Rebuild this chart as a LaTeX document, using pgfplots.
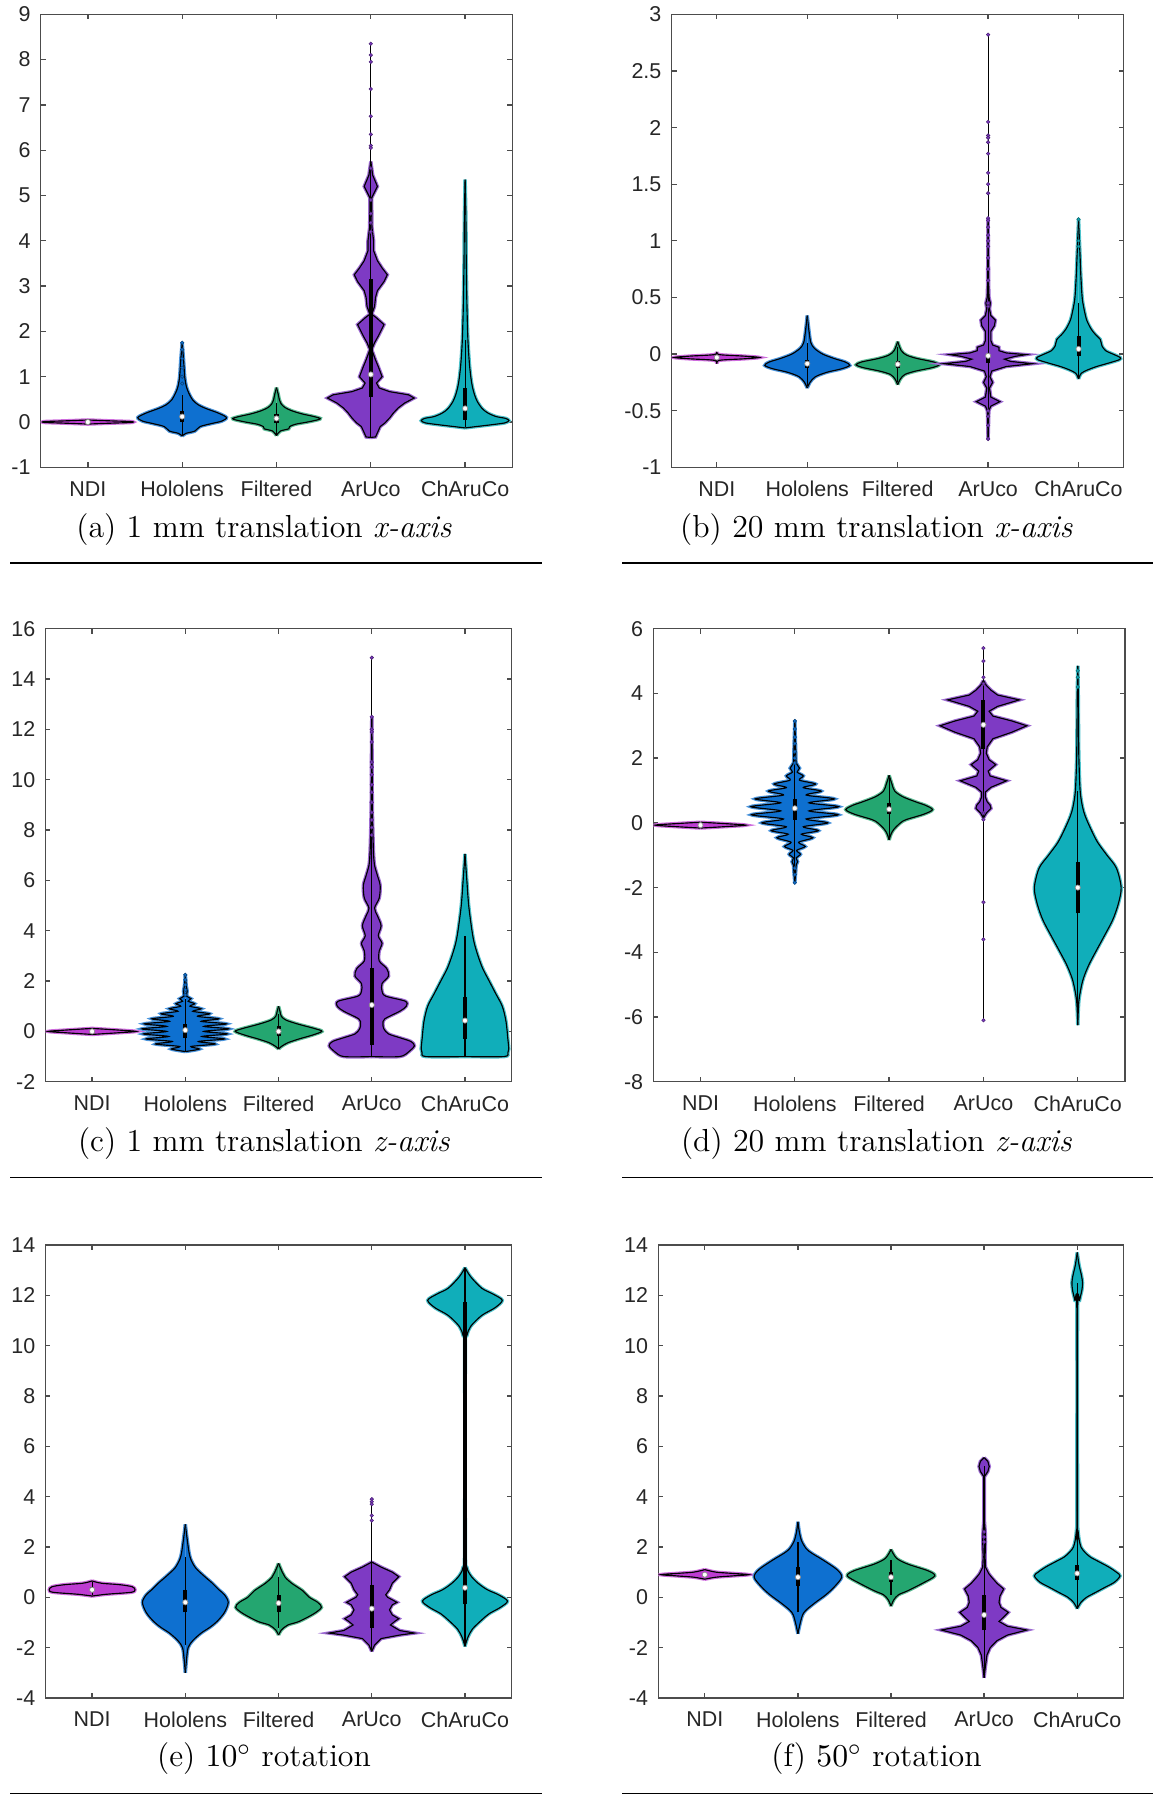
\documentclass[border=0pt]{standalone}
\usepackage{fontspec}
\newfontfamily\tickfont{Liberation Sans}
\usepackage{pgfplots}
\usepackage{pgfplotstable}
\pgfplotsset{compat=1.18}

\definecolor{cNDI}{RGB}{190,60,210}
\definecolor{cHol}{RGB}{14,112,208}
\definecolor{cFil}{RGB}{36,166,112}
\definecolor{cAru}{RGB}{126,58,196}
\definecolor{cCha}{RGB}{16,174,186}

\newcommand\capfont{\fontsize{11}{13}\selectfont}

% half-width profiles (y, w) of each violin
% (a) 1 mm translation x
\pgfplotstableread[row sep=\\]{y w\\ -0.045 0\\ -0.025 0.25\\ -0.01 0.46\\ 0.01 0.46\\ 0.025 0.25\\ 0.045 0\\}\aNDI
\pgfplotstableread[row sep=\\]{y w\\ -0.31 0\\ -0.25 0.04\\ -0.2 0.135\\ -0.1 0.19\\ -0.03 0.32\\ 0.02 0.42\\ 0.1 0.47\\ 0.2 0.38\\ 0.3 0.25\\ 0.38 0.17\\ 0.49 0.11\\ 0.64 0.07\\ 0.78 0.045\\ 1.0 0.027\\ 1.37 0.015\\ 1.75 0\\}\aHol
\pgfplotstableread[row sep=\\]{y w\\ -0.3 0\\ -0.2 0.04\\ -0.15 0.13\\ -0.1 0.14\\ -0.05 0.2\\ 0.0 0.33\\ 0.05 0.44\\ 0.08 0.464\\ 0.12 0.40\\ 0.18 0.27\\ 0.25 0.16\\ 0.32 0.09\\ 0.4 0.05\\ 0.5 0.03\\ 0.6 0.02\\ 0.76 0\\}\aFil
\pgfplotstableread[row sep=\\]{y w\\ -0.34 0\\ -0.33 0.05\\ -0.1 0.1\\ -0.02 0.15\\ 0.09 0.2\\ 0.2 0.24\\ 0.31 0.29\\ 0.42 0.36\\ 0.53 0.46\\ 0.6 0.4\\ 0.67 0.2\\ 0.75 0.09\\ 0.86 0.06\\ 1.0 0.12\\ 1.22 0.08\\ 1.37 0.05\\ 1.6 0.01\\ 1.75 0.04\\ 1.9 0.08\\ 2.15 0.14\\ 2.3 0.06\\ 2.38 0.01\\ 2.55 0.04\\ 2.75 0.05\\ 2.9 0.07\\ 3.1 0.14\\ 3.25 0.175\\ 3.4 0.12\\ 3.56 0.07\\ 3.78 0.03\\ 4.0 0.03\\ 4.3 0.012\\ 4.7 0.01\\ 4.95 0.01\\ 5.2 0.07\\ 5.45 0.02\\ 5.75 0\\}\aAru
\pgfplotstableread[row sep=\\]{y w\\ -0.13 0\\ -0.1 0.12\\ -0.06 0.28\\ -0.02 0.42\\ 0.03 0.465\\ 0.08 0.43\\ 0.12 0.33\\ 0.2 0.24\\ 0.3 0.18\\ 0.45 0.13\\ 0.6 0.1\\ 0.8 0.075\\ 1.0 0.06\\ 1.3 0.045\\ 1.8 0.03\\ 2.5 0.02\\ 3.5 0.012\\ 4.5 0.008\\ 5.35 0\\}\aCha
% (b) 20 mm translation x
\pgfplotstableread[row sep=\\]{y w\\ -0.085 0\\ -0.055 0.03\\ -0.042 0.3\\ -0.03 0.47\\ -0.018 0.3\\ -0.005 0.03\\ 0.02 0\\}\bNDI
\pgfplotstableread[row sep=\\]{y w\\ -0.3 0\\ -0.25 0.03\\ -0.2 0.09\\ -0.16 0.22\\ -0.13 0.38\\ -0.1 0.47\\ -0.07 0.42\\ -0.04 0.3\\ 0.0 0.17\\ 0.05 0.08\\ 0.1 0.04\\ 0.2 0.02\\ 0.34 0\\}\bHol
\pgfplotstableread[row sep=\\]{y w\\ -0.27 0\\ -0.22 0.03\\ -0.18 0.08\\ -0.15 0.2\\ -0.12 0.38\\ -0.095 0.46\\ -0.07 0.4\\ -0.04 0.22\\ -0.01 0.1\\ 0.03 0.04\\ 0.11 0\\}\bFil
\pgfplotstableread[row sep=\\]{y w\\ -0.75 0\\ -0.5 0.008\\ -0.46 0.03\\ -0.42 0.13\\ -0.38 0.03\\ -0.3 0.015\\ -0.25 0.05\\ -0.2 0.02\\ -0.15 0.04\\ -0.11 0.2\\ -0.085 0.49\\ -0.065 0.25\\ -0.045 0.18\\ -0.02 0.3\\ -0.005 0.42\\ 0.01 0.2\\ 0.03 0.12\\ 0.06 0.12\\ 0.08 0.05\\ 0.12 0.03\\ 0.2 0.03\\ 0.25 0.07\\ 0.3 0.08\\ 0.34 0.03\\ 0.4 0.015\\ 0.45 0.025\\ 0.5 0.01\\ 0.6 0.006\\ 1.2 0\\}\bAru
\pgfplotstableread[row sep=\\]{y w\\ -0.22 0\\ -0.17 0.03\\ -0.14 0.1\\ -0.11 0.2\\ -0.08 0.33\\ -0.05 0.45\\ -0.03 0.46\\ 0.0 0.38\\ 0.03 0.3\\ 0.07 0.26\\ 0.1 0.25\\ 0.13 0.24\\ 0.17 0.19\\ 0.22 0.14\\ 0.3 0.09\\ 0.4 0.06\\ 0.5 0.04\\ 0.7 0.025\\ 0.9 0.015\\ 1.19 0\\}\bCha
% (c) 1 mm translation z
\pgfplotstableread[row sep=\\]{y w\\ -0.12 0\\ -0.05 0.3\\ 0 0.47\\ 0.05 0.3\\ 0.12 0\\}\cNDI
\pgfplotstableread[row sep=\\]{y w\\ -0.8 0\\ -0.7 0.15\\ -0.6 0.06\\ -0.5 0.32\\ -0.4 0.14\\ -0.3 0.42\\ -0.2 0.18\\ -0.1 0.45\\ 0 0.2\\ 0.1 0.465\\ 0.2 0.2\\ 0.3 0.44\\ 0.4 0.17\\ 0.5 0.36\\ 0.6 0.13\\ 0.7 0.26\\ 0.8 0.08\\ 0.9 0.17\\ 1.0 0.05\\ 1.1 0.1\\ 1.2 0.03\\ 1.3 0.06\\ 1.4 0.015\\ 1.6 0.02\\ 1.8 0.01\\ 2.25 0\\}\cHol
\pgfplotstableread[row sep=\\]{y w\\ -0.7 0\\ -0.6 0.03\\ -0.45 0.1\\ -0.3 0.22\\ -0.15 0.36\\ 0 0.465\\ 0.1 0.4\\ 0.2 0.3\\ 0.3 0.2\\ 0.45 0.08\\ 0.6 0.03\\ 0.8 0.015\\ 1.0 0\\}\cFil
\pgfplotstableread[row sep=\\]{y w\\ -1.0 0\\ -1.0 0.3\\ -0.8 0.4\\ -0.57 0.457\\ -0.4 0.42\\ -0.25 0.3\\ -0.1 0.18\\ 0.1 0.13\\ 0.3 0.12\\ 0.5 0.14\\ 0.8 0.3\\ 1.0 0.37\\ 1.2 0.36\\ 1.4 0.15\\ 1.6 0.11\\ 1.9 0.11\\ 2.2 0.18\\ 2.5 0.16\\ 2.8 0.08\\ 3.2 0.08\\ 3.5 0.11\\ 3.8 0.07\\ 4.2 0.1\\ 4.6 0.06\\ 4.9 0.03\\ 5.3 0.08\\ 5.8 0.09\\ 6.2 0.06\\ 6.6 0.03\\ 7.0 0.02\\ 7.5 0.015\\ 8.2 0.01\\ 9 0.006\\ 10.5 0.004\\ 12.5 0\\}\cAru
\pgfplotstableread[row sep=\\]{y w\\ -1.0 0\\ -1.0 0.42\\ -0.85 0.46\\ -0.7 0.47\\ -0.3 0.46\\ 0.4 0.44\\ 1.0 0.4\\ 1.5 0.33\\ 2.0 0.26\\ 2.5 0.19\\ 3.0 0.14\\ 3.5 0.1\\ 4.0 0.075\\ 5.0 0.04\\ 6.0 0.02\\ 7.05 0\\}\cCha
% (d) 20 mm translation z
\pgfplotstableread[row sep=\\]{y w\\ -0.16 0\\ -0.11 0.3\\ -0.07 0.48\\ -0.03 0.3\\ 0.02 0\\}\dNDI
\pgfplotstableread[row sep=\\]{y w\\ -1.85 0\\ -1.5 0.01\\ -1.3 0.015\\ -1.2 0.03\\ -1.08 0.015\\ -0.97 0.06\\ -0.85 0.02\\ -0.73 0.11\\ -0.6 0.04\\ -0.46 0.19\\ -0.35 0.07\\ -0.24 0.25\\ -0.12 0.09\\ 0.0 0.35\\ 0.12 0.12\\ 0.25 0.46\\ 0.37 0.15\\ 0.5 0.465\\ 0.62 0.15\\ 0.74 0.42\\ 0.86 0.12\\ 0.98 0.28\\ 1.09 0.09\\ 1.2 0.22\\ 1.32 0.05\\ 1.45 0.09\\ 1.57 0.025\\ 1.69 0.05\\ 1.85 0.015\\ 2.2 0.01\\ 3.15 0\\}\dHol
\pgfplotstableread[row sep=\\]{y w\\ -0.53 0\\ -0.35 0.02\\ -0.2 0.05\\ 0.0 0.12\\ 0.1 0.18\\ 0.27 0.37\\ 0.41 0.46\\ 0.55 0.38\\ 0.62 0.31\\ 0.8 0.15\\ 0.98 0.06\\ 1.2 0.03\\ 1.47 0\\}\dFil
\pgfplotstableread[row sep=\\]{y w\\ 0.15 0\\ 0.3 0.03\\ 0.45 0.08\\ 0.55 0.07\\ 0.65 0.04\\ 0.8 0.02\\ 0.95 0.02\\ 1.1 0.08\\ 1.3 0.245\\ 1.45 0.07\\ 1.6 0.05\\ 1.8 0.13\\ 1.95 0.06\\ 2.15 0.03\\ 2.35 0.04\\ 2.6 0.1\\ 2.8 0.3\\ 3.0 0.46\\ 3.15 0.3\\ 3.3 0.1\\ 3.45 0.06\\ 3.6 0.15\\ 3.8 0.38\\ 3.95 0.15\\ 4.1 0.08\\ 4.25 0.03\\ 4.4 0\\}\dAru
\pgfplotstableread[row sep=\\]{y w\\ -6.25 0\\ -5.5 0.012\\ -4.9 0.05\\ -4.5 0.1\\ -4.2 0.15\\ -3.5 0.28\\ -3.0 0.37\\ -2.5 0.43\\ -2.0 0.46\\ -1.4 0.41\\ -1.0 0.31\\ -0.6 0.21\\ -0.2 0.14\\ 0.2 0.08\\ 0.5 0.05\\ 1.0 0.025\\ 2.0 0.012\\ 3.0 0.008\\ 4.0 0.005\\ 4.85 0\\}\dCha
% (e) 10 deg rotation
\pgfplotstableread[row sep=\\]{y w\\ 0.05 0\\ 0.12 0.15\\ 0.2 0.42\\ 0.3 0.46\\ 0.42 0.43\\ 0.5 0.3\\ 0.56 0.1\\ 0.65 0\\}\eNDI
\pgfplotstableread[row sep=\\]{y w\\ -3.0 0\\ -2.5 0.012\\ -2.0 0.03\\ -1.72 0.08\\ -1.42 0.17\\ -1.2 0.26\\ -0.96 0.34\\ -0.6 0.42\\ -0.2 0.46\\ 0.1 0.42\\ 0.3 0.36\\ 0.56 0.29\\ 0.85 0.2\\ 1.17 0.11\\ 1.5 0.06\\ 1.78 0.04\\ 2.3 0.02\\ 2.9 0\\}\eHol
\pgfplotstableread[row sep=\\]{y w\\ -1.5 0\\ -1.3 0.03\\ -1.1 0.1\\ -0.96 0.22\\ -0.65 0.38\\ -0.4 0.46\\ -0.2 0.42\\ 0.0 0.33\\ 0.26 0.26\\ 0.56 0.14\\ 0.8 0.07\\ 1.0 0.04\\ 1.35 0\\}\eFil
\pgfplotstableread[row sep=\\]{y w\\ -2.15 0\\ -1.9 0.03\\ -1.64 0.1\\ -1.5 0.3\\ -1.42 0.457\\ -1.32 0.3\\ -1.1 0.2\\ -0.95 0.25\\ -0.85 0.29\\ -0.7 0.22\\ -0.5 0.19\\ -0.3 0.22\\ -0.2 0.27\\ 0.0 0.17\\ 0.1 0.15\\ 0.3 0.19\\ 0.56 0.22\\ 0.82 0.29\\ 1.0 0.22\\ 1.2 0.1\\ 1.4 0\\}\eAru
\pgfplotstableread[row sep=\\]{y w\\ -1.95 0\\ -1.6 0.03\\ -1.26 0.08\\ -0.9 0.18\\ -0.65 0.26\\ -0.4 0.38\\ -0.15 0.456\\ 0.1 0.36\\ 0.3 0.24\\ 0.56 0.14\\ 0.87 0.06\\ 1.2 0.02\\ 2 0.004\\ 10.0 0.004\\ 10.4 0.02\\ 10.76 0.06\\ 11.2 0.18\\ 11.5 0.32\\ 11.8 0.4\\ 12.05 0.3\\ 12.28 0.18\\ 12.74 0.06\\ 13.1 0\\}\eCha
% (f) 50 deg rotation
\pgfplotstableread[row sep=\\]{y w\\ 0.72 0\\ 0.8 0.12\\ 0.85 0.3\\ 0.9 0.47\\ 0.95 0.3\\ 1.0 0.12\\ 1.1 0\\}\fNDI
\pgfplotstableread[row sep=\\]{y w\\ -1.45 0\\ -1.1 0.02\\ -0.7 0.05\\ -0.5 0.09\\ -0.2 0.19\\ 0.1 0.3\\ 0.41 0.39\\ 0.8 0.47\\ 1.1 0.42\\ 1.48 0.27\\ 1.75 0.15\\ 1.93 0.09\\ 2.24 0.04\\ 2.6 0.015\\ 3.0 0\\}\fHol
\pgfplotstableread[row sep=\\]{y w\\ -0.35 0\\ -0.1 0.03\\ 0.1 0.08\\ 0.26 0.18\\ 0.56 0.34\\ 0.85 0.47\\ 1.05 0.4\\ 1.32 0.18\\ 1.55 0.06\\ 1.9 0\\}\fFil
\pgfplotstableread[row sep=\\]{y w\\ -3.2 0\\ -2.8 0.012\\ -2.3 0.03\\ -2.0 0.065\\ -1.72 0.14\\ -1.5 0.25\\ -1.3 0.46\\ -1.15 0.25\\ -0.96 0.16\\ -0.75 0.22\\ -0.6 0.26\\ -0.4 0.18\\ -0.2 0.16\\ 0.05 0.17\\ 0.33 0.21\\ 0.55 0.14\\ 0.8 0.08\\ 0.94 0.05\\ 1.2 0.015\\ 1.6 0.01\\ 2.2 0.015\\ 2.6 0.012\\ 3.0 0.004\\ 4.8 0.004\\ 5.0 0.04\\ 5.2 0.055\\ 5.4 0.04\\ 5.55 0\\}\fAru
\pgfplotstableread[row sep=\\]{y w\\ -0.45 0\\ -0.2 0.04\\ 0.0 0.1\\ 0.2 0.2\\ 0.4 0.3\\ 0.6 0.4\\ 0.85 0.46\\ 1.0 0.42\\ 1.2 0.34\\ 1.4 0.24\\ 1.6 0.14\\ 1.8 0.08\\ 2.0 0.04\\ 2.3 0.02\\ 2.6 0.01\\ 3.0 0.004\\ 11.4 0.004\\ 11.8 0.025\\ 12.2 0.05\\ 12.5 0.057\\ 12.8 0.045\\ 13.2 0.02\\ 13.7 0\\}\fCha

% violin body: [path options]{table}{position}{colour}
% each half starts and ends on the centre line (w=0), so filling it closes it there
\newcommand{\violin}[4][smooth, tension=0.5]{%
  \addplot[#1, draw=#4!75!white, line width=1.2pt] table[x expr=#3+\thisrow{w}, y=y] {#2};
  \addplot[#1, draw=#4!75!white, line width=1.2pt] table[x expr=#3-\thisrow{w}, y=y] {#2};
  \addplot[#1, fill=#4, draw=black, line width=0.4pt] table[x expr=#3+\thisrow{w}, y=y] {#2};
  \addplot[#1, fill=#4, draw=black, line width=0.4pt] table[x expr=#3-\thisrow{w}, y=y] {#2};
}
% whisker, box and median: {pos}{low}{high}{q1}{q3}{median}
\newcommand{\vstat}[6]{%
  \addplot[black, line width=0.4pt] coordinates {(#1,#2) (#1,#3)};
  \addplot[black, line width=1.4pt] coordinates {(#1,#4) (#1,#5)};
  \addplot[only marks, mark=*, mark size=0.9pt, mark options={fill=white, draw=black!45, line width=0.25pt}] coordinates {(#1,#6)};
}
% single data points
\newcommand{\vpts}[2]{%
  \addplot[only marks, mark=*, mark size=0.6pt, mark options={fill=#1, draw=#1!60!black, line width=0.2pt}] coordinates {#2};
}

\pgfplotsset{
  vio/.style={
    scale only axis, height=156.3pt, anchor=north west,
    xmin=0.5, xmax=5.5, xtick={1,2,3,4,5},
    xticklabels={NDI,Hololens,Filtered,ArUco,ChAruCo},
    tick align=inside, major tick length=1.7pt,
    axis line style={black!70, line width=0.45pt},
    tick style={black!70, line width=0.45pt},
    tick label style={font=\tickfont\fontsize{7.4}{8.5}\selectfont, text=black!85},
    xticklabel style={yshift=-1.3pt},
  }
}

\begin{document}
\begin{tikzpicture}
\path[use as bounding box] (0,0) rectangle (399.86pt,-621pt);

% (a)
\begin{axis}[vio, at={(14.04pt,-4.93pt)}, width=162.7pt, ymin=-1, ymax=9,
  ytick={-1,0,1,2,3,4,5,6,7,8,9}, yticklabels={-1,0,1,2,3,4,5,6,7,8,9}]
\violin{\aNDI}{1}{cNDI}
\violin{\aHol}{2}{cHol}
\violin{\aFil}{3}{cFil}
\violin[sharp plot]{\aAru}{4}{cAru}
\violin{\aCha}{5}{cCha}
\vstat{1}{-0.03}{0.03}{-0.01}{0.01}{0}
\vstat{2}{-0.3}{0.6}{0}{0.25}{0.12}
\vstat{3}{-0.28}{0.42}{-0.02}{0.17}{0.08}
\vstat{4}{-0.33}{8.35}{0.55}{3.15}{1.05}
\vstat{5}{-0.12}{1.8}{0.05}{0.75}{0.3}
\vpts{cAru}{(4,8.35)(4,8.1)(4,7.95)(4,7.35)(4,6.75)(4,6.35)(4,6.1)(4,6.05)(4,5.6)(4,4.9)(4,4.6)(4,4.4)(4,4.2)}
\vpts{cHol}{(2,1.75)(2,1.6)(2,1.4)(2,1.2)(2,1.0)(2,0.85)}
\end{axis}

% (b)
\begin{axis}[vio, at={(231.7pt,-4.93pt)}, width=156pt, ymin=-1, ymax=3,
  ytick={-1,-0.5,0,0.5,1,1.5,2,2.5,3}, yticklabels={-1,-0.5,0,0.5,1,1.5,2,2.5,3}]
\violin{\bNDI}{1}{cNDI}
\violin{\bHol}{2}{cHol}
\violin{\bFil}{3}{cFil}
\violin[sharp plot]{\bAru}{4}{cAru}
\violin{\bCha}{5}{cCha}
\vstat{1}{-0.07}{0.01}{-0.04}{-0.02}{-0.03}
\vstat{2}{-0.28}{0.1}{-0.12}{-0.05}{-0.085}
\vstat{3}{-0.25}{0.06}{-0.12}{-0.06}{-0.09}
\vstat{4}{-0.75}{2.82}{-0.08}{0.0}{-0.015}
\vstat{5}{-0.21}{0.45}{-0.02}{0.16}{0.045}
\vpts{cAru}{(4,2.82)(4,2.05)(4,1.93)(4,1.91)(4,1.87)(4,1.77)(4,1.6)(4,1.5)(4,1.42)(4,1.2)(4,1.18)(4,1.12)(4,1.05)(4,1.0)(4,0.95)(4,0.85)(4,0.75)(4,0.65)(4,0.45)(4,0.42)(4,-0.5)(4,-0.55)(4,-0.63)(4,-0.75)}
\vpts{cCha}{(5,1.19)(5,1.0)(5,0.95)}
\end{axis}

% (c)
\begin{axis}[vio, at={(15.7pt,-216.9pt)}, width=160.8pt, ymin=-2, ymax=16,
  ytick={-2,0,2,4,6,8,10,12,14,16}, yticklabels={-2,0,2,4,6,8,10,12,14,16}]
\violin{\cNDI}{1}{cNDI}
\violin{\cHol}{2}{cHol}
\violin{\cFil}{3}{cFil}
\violin{\cAru}{4}{cAru}
\violin{\cCha}{5}{cCha}
\vstat{1}{-0.05}{0.05}{-0.02}{0.02}{0}
\vstat{2}{-0.8}{1.3}{-0.25}{0.3}{0.05}
\vstat{3}{-0.7}{0.7}{-0.2}{0.2}{0}
\vstat{4}{-1.0}{14.85}{-0.55}{2.5}{1.05}
\vstat{5}{-1.0}{3.8}{-0.3}{1.35}{0.43}
\vpts{cAru}{(4,14.85)(4,12.5)(4,12.0)(4,11.9)(4,11.5)(4,10.7)(4,10.5)(4,10.2)(4,9.8)(4,9.5)(4,9.1)(4,8.7)(4,8.4)(4,8.1)(4,7.8)}
\vpts{cHol}{(2,2.25)(2,2.05)(2,1.85)(2,1.65)(2,1.45)}
\end{axis}

% (d)
\begin{axis}[vio, at={(225.4pt,-216.9pt)}, width=162.7pt, ymin=-8, ymax=6,
  ytick={-8,-6,-4,-2,0,2,4,6}, yticklabels={-8,-6,-4,-2,0,2,4,6}]
\violin{\dNDI}{1}{cNDI}
\violin{\dHol}{2}{cHol}
\violin{\dFil}{3}{cFil}
\violin[sharp plot]{\dAru}{4}{cAru}
\violin{\dCha}{5}{cCha}
\vstat{1}{-0.12}{0.0}{-0.09}{-0.05}{-0.07}
\vstat{2}{-1.85}{3.15}{0.1}{0.75}{0.45}
\vstat{3}{-0.5}{1.4}{0.28}{0.6}{0.42}
\vstat{4}{-6.1}{5.4}{2.28}{3.8}{3.03}
\vstat{5}{-6.2}{1.0}{-2.8}{-1.2}{-2.0}
\vpts{cAru}{(4,5.4)(4,5.0)(4,4.5)(4,4.3)(4,-2.45)(4,-3.6)(4,-6.1)(4,0.1)(4,0.3)}
\vpts{cHol}{(2,3.15)(2,2.9)(2,2.65)(2,2.45)(2,2.2)(2,2.0)(2,1.85)(2,-1.4)(2,-1.6)(2,-1.85)}
\vpts{cCha}{(5,4.7)(5,4.5)(5,4.2)}
\end{axis}

% (e)
\begin{axis}[vio, at={(15.7pt,-429.5pt)}, width=160.8pt, ymin=-4, ymax=14,
  ytick={-4,-2,0,2,4,6,8,10,12,14}, yticklabels={-4,-2,0,2,4,6,8,10,12,14}]
\violin{\eNDI}{1}{cNDI}
\violin{\eHol}{2}{cHol}
\violin{\eFil}{3}{cFil}
\violin[sharp plot]{\eAru}{4}{cAru}
\violin{\eCha}{5}{cCha}
\vstat{1}{0.1}{0.6}{0.25}{0.4}{0.3}
\vstat{2}{-1.9}{1.6}{-0.6}{0.3}{-0.2}
\vstat{3}{-1.2}{0.8}{-0.6}{0.1}{-0.23}
\vstat{4}{-2.1}{3.9}{-1.2}{0.5}{-0.45}
\vstat{5}{-1.95}{13.1}{-0.27}{11.75}{0.38}
\vpts{cAru}{(4,3.9)(4,3.8)(4,3.7)(4,3.25)(4,3.05)}
\end{axis}

% (f)
\begin{axis}[vio, at={(227.1pt,-429.5pt)}, width=160.6pt, ymin=-4, ymax=14,
  ytick={-4,-2,0,2,4,6,8,10,12,14}, yticklabels={-4,-2,0,2,4,6,8,10,12,14}]
\violin{\fNDI}{1}{cNDI}
\violin{\fHol}{2}{cHol}
\violin{\fFil}{3}{cFil}
\violin[sharp plot]{\fAru}{4}{cAru}
\violin{\fCha}{5}{cCha}
\vstat{1}{0.8}{1.0}{0.85}{0.95}{0.9}
\vstat{2}{-0.6}{2.2}{0.45}{1.2}{0.8}
\vstat{3}{0.1}{1.5}{0.6}{1.0}{0.8}
\vstat{4}{-3.15}{5.2}{-1.3}{0.1}{-0.7}
\vstat{5}{-0.45}{12.5}{0.7}{1.3}{0.95}
\vpts{cAru}{(4,2.6)(4,2.4)(4,2.2)}
\end{axis}

% sub-captions and rules
\node[anchor=base, font=\capfont] at (91.1pt,-185.4pt) {(a) 1 mm translation \textit{x-axis}};
\node[anchor=base, font=\capfont] at (302.4pt,-185.4pt) {(b) 20 mm translation \textit{x-axis}};
\node[anchor=base, font=\capfont] at (91.1pt,-397.3pt) {(c) 1 mm translation \textit{z-axis}};
\node[anchor=base, font=\capfont] at (302.4pt,-397.3pt) {(d) 20 mm translation \textit{z-axis}};
\node[anchor=base, font=\capfont] at (91.1pt,-609.5pt) {(e) $10^\circ$ rotation};
\node[anchor=base, font=\capfont] at (302.4pt,-609.5pt) {(f) $50^\circ$ rotation};
\foreach \yy in {194.3,406.3,618.7}{
  \draw[line width=0.5pt] (3.45pt,-\yy pt) -- (187pt,-\yy pt);
  \draw[line width=0.5pt] (214.6pt,-\yy pt) -- (397.8pt,-\yy pt);
}
\end{tikzpicture}
\end{document}
